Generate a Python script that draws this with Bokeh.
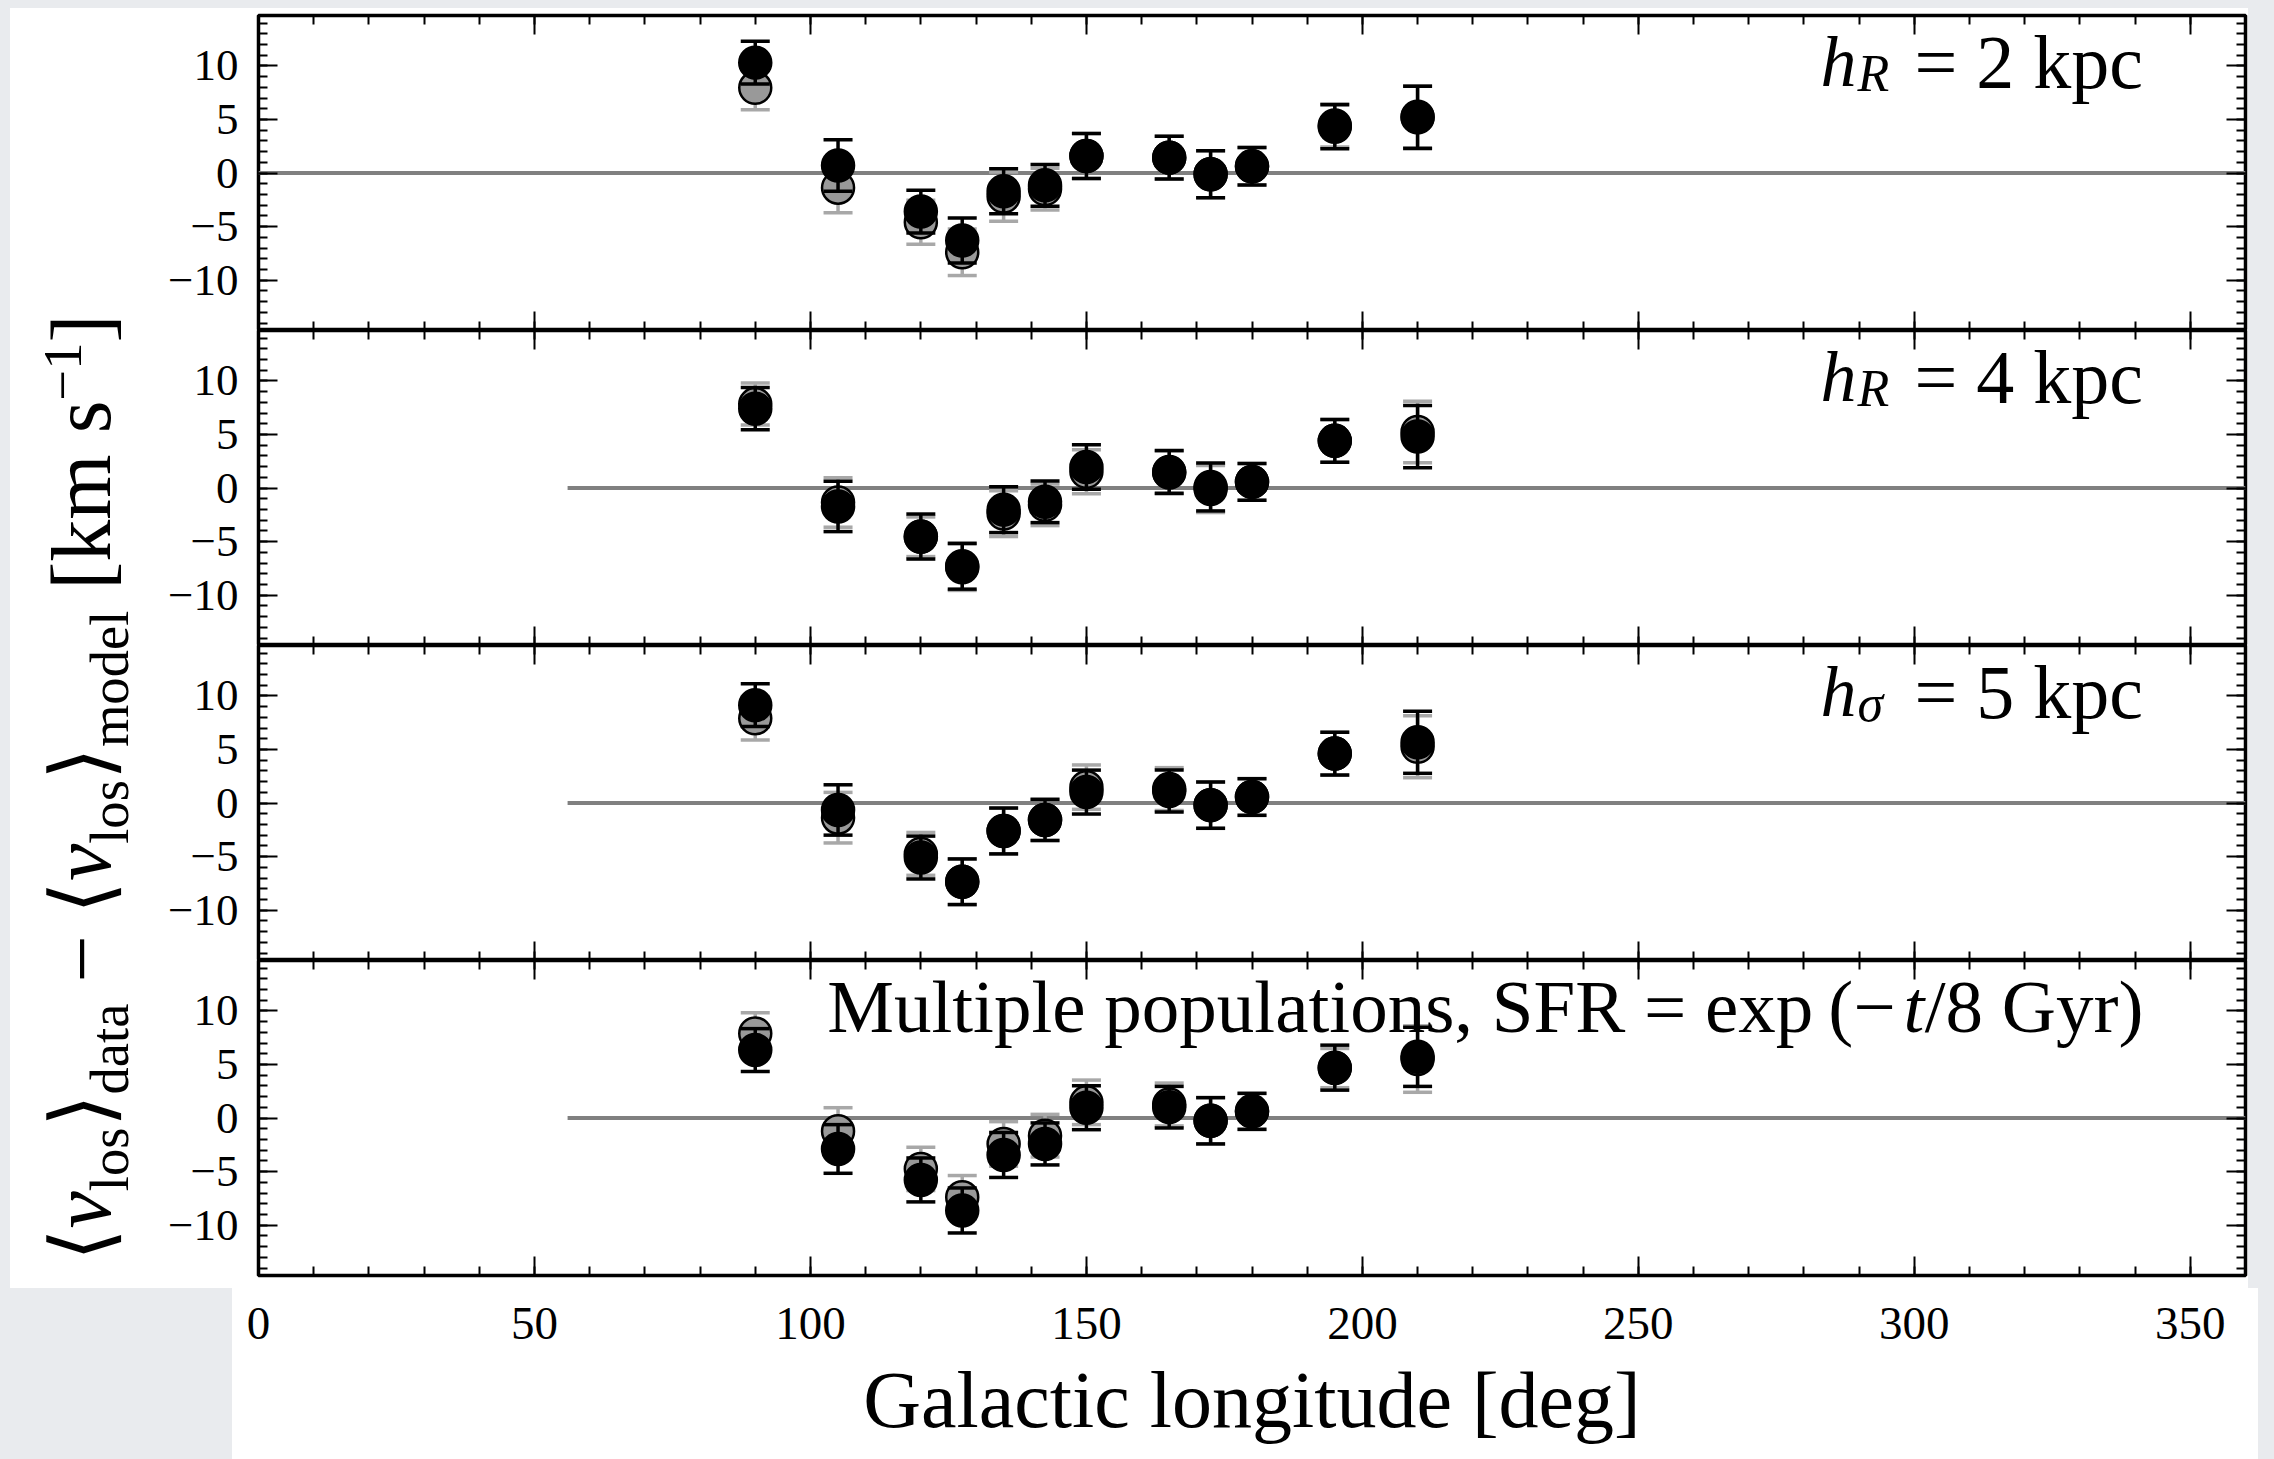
from bokeh.plotting import figure
from bokeh.layouts import column, row
from bokeh.models import ColumnDataSource, FixedTicker, LinearAxis, Range1d, Div, Label
from bokeh.embed import file_html
from bokeh.resources import INLINE

# ---------------- data ----------------
longitude = [90, 105, 120, 127.5, 135, 142.5, 150, 165, 172.5, 180, 195, 210]

p1_black_y = [10.3, 0.7, -3.6, -6.3, -1.7, -1.15, 1.58, 1.43, -0.12, 0.62, 4.32, 5.19]
p1_black_err = [2.0, 2.4, 2.0, 2.1, 2.1, 1.95, 2.1, 2.0, 2.2, 1.75, 2.05, 2.9]
p1_gray_y = [7.95, -1.37, -4.6, -7.4, -2.2, -1.5, 1.58, 1.43, -0.12, 0.62, 4.44, 5.25]
p1_gray_err = [2.05, 2.33, 2.05, 2.17, 2.3, 1.95, 2.1, 2.0, 2.2, 1.75, 2.02, 2.9]

p2_black_y = [7.4, -1.72, -4.53, -7.3, -2.02, -1.29, 1.96, 1.5, 0.1, 0.57, 4.4, 4.8]
p2_black_err = [1.97, 2.35, 2.1, 2.14, 2.14, 1.94, 2.08, 2.0, 2.24, 1.72, 2.0, 2.9]
p2_gray_y = [7.83, -1.35, -4.55, -7.4, -2.39, -1.57, 1.52, 1.45, -0.09, 0.57, 4.4, 5.23]
p2_gray_err = [1.96, 2.31, 1.85, 2.16, 2.14, 1.94, 2.05, 2.0, 2.2, 1.72, 2.0, 2.87]

p3_black_y = [9.13, -0.65, -5.09, -7.35, -2.61, -1.58, 1.02, 1.12, -0.2, 0.56, 4.61, 5.67]
p3_black_err = [2.0, 2.35, 2.0, 2.13, 2.14, 1.92, 2.05, 1.96, 2.16, 1.71, 2.0, 2.9]
p3_gray_y = [7.9, -1.37, -4.75, -7.35, -2.61, -1.58, 1.48, 1.3, -0.2, 0.56, 4.61, 5.25]
p3_gray_err = [2.03, 2.36, 2.0, 2.13, 2.14, 1.92, 2.07, 2.0, 2.16, 1.71, 2.0, 2.89]

p4_black_y = [6.34, -2.89, -5.78, -8.63, -3.45, -2.42, 0.96, 1.01, -0.26, 0.62, 4.7, 5.71]
p4_black_err = [2.0, 2.27, 2.05, 2.1, 2.1, 1.96, 2.05, 1.94, 2.16, 1.68, 2.1, 2.76]
p4_gray_y = [7.89, -1.24, -4.75, -7.39, -2.42, -1.65, 1.46, 1.26, -0.26, 0.62, 4.66, 5.5]
p4_gray_err = [1.93, 2.2, 2.02, 2.02, 2.08, 1.99, 2.08, 2.0, 2.16, 1.68, 1.83, 3.1]

zero_line_start = [0, 56, 56, 56]

x_major = [0, 50, 100, 150, 200, 250, 300, 350]
x_minor = list(range(0, 361, 10))
x_tick_labels = ["0", "50", "100", "150", "200", "250", "300", "350"]
y_major = [-10, -5, 0, 5, 10]
y_minor = list(range(-14, 15))
y_tick_labels = ["\u221210", "\u22125", "0", "5", "10"]

panel_sub = ["R", "R", "\u03c3", None]
panel_rest = ["= 2 kpc", "= 4 kpc", "= 5 kpc", None]
panel4_parts = ["Multiple populations,  SFR = exp\u2009(\u2212", "t", "/8 Gyr)"]
x_label = "Galactic longitude [deg]"

panels = [
    (p1_black_y, p1_black_err, p1_gray_y, p1_gray_err),
    (p2_black_y, p2_black_err, p2_gray_y, p2_gray_err),
    (p3_black_y, p3_black_err, p3_gray_y, p3_gray_err),
    (p4_black_y, p4_black_err, p4_gray_y, p4_gray_err),
]

FONT = "Liberation Serif"
FRAME_W, FRAME_H = 1987, 315
x_range = Range1d(0, 360)


def add_axis(p, loc, ticks, minor, labels=None, fsize="44px", standoff=20):
    ax = LinearAxis(ticker=FixedTicker(ticks=ticks, minor_ticks=minor))
    ax.major_tick_in = 19
    ax.major_tick_out = 0
    ax.minor_tick_in = 9
    ax.minor_tick_out = 0
    ax.major_tick_line_width = 2
    ax.minor_tick_line_width = 2
    ax.major_tick_line_color = "black"
    ax.minor_tick_line_color = "black"
    ax.axis_line_color = None
    if labels is None:
        ax.major_label_text_font_size = "0px"
        ax.major_label_standoff = 0
        ax.major_label_overrides = {t: "" for t in ticks}
    else:
        ax.major_label_overrides = dict(zip(ticks, labels))
        ax.major_label_text_font = FONT
        ax.major_label_text_font_size = fsize
        ax.major_label_text_color = "black"
        ax.major_label_standoff = standoff
    p.add_layout(ax, loc)
    return ax


figs = []
for i, (by, be, gy, ge) in enumerate(panels):
    last = i == 3
    p = figure(frame_width=FRAME_W, frame_height=FRAME_H,
               x_range=x_range, y_range=Range1d(-14.7, 14.7),
               x_axis_location=None, y_axis_location=None,
               output_backend="svg", toolbar_location=None,
               min_border_left=108, min_border_right=29,
               min_border_top=15 if i == 0 else 0,
               min_border_bottom=0,
               border_fill_color=None, background_fill_color="white",
               outline_line_color="black", outline_line_width=3.5)
    p.grid.grid_line_color = None
    p.grid.visible = False

    add_axis(p, "left", y_major, y_minor, y_tick_labels, "45px", 20)
    add_axis(p, "right", y_major, y_minor)
    add_axis(p, "above", x_major, x_minor)
    if last:
        xa = add_axis(p, "below", x_major, x_minor, x_tick_labels, "47px", 32)
        xa.axis_label = x_label
        xa.axis_label_text_font = FONT
        xa.axis_label_text_font_size = "80px"
        xa.axis_label_text_font_style = "normal"
        xa.axis_label_text_color = "black"
        xa.axis_label_standoff = 14
    else:
        add_axis(p, "below", x_major, x_minor)

    # zero reference line
    p.segment(x0=[zero_line_start[i]], y0=[0], x1=[360], y1=[0],
              line_color="#808080", line_width=4)

    for ys, es, fill, ecol in ((gy, ge, "#999999", "#a8a8a8"), (by, be, "black", "black")):
        lo = [y - e for y, e in zip(ys, es)]
        hi = [y + e for y, e in zip(ys, es)]
        src = ColumnDataSource(dict(x=longitude, y=ys, lo=lo, hi=hi))
        p.segment(x0="x", y0="lo", x1="x", y1="hi", source=src,
                  line_color=ecol, line_width=3.5)
        p.scatter(x="x", y="lo", source=src, marker="dash", size=29,
                  line_color=ecol, line_width=3.5)
        p.scatter(x="x", y="hi", source=src, marker="dash", size=29,
                  line_color=ecol, line_width=3.5)
        p.scatter(x="x", y="y", source=src, marker="circle", size=32,
                  fill_color=fill, line_color="black", line_width=2.5)

    if panel_sub[i] is not None:
        base = dict(x=283, y=10.4, text_font=FONT, text_color="black",
                    text_baseline="alphabetic", text_align="left")
        p.add_layout(Label(text="h", text_font_size="72px",
                           text_font_style="italic", **base))
        p.add_layout(Label(text=panel_sub[i], text_font_size="52px",
                           text_font_style="italic", x_offset=37, y_offset=-12, **base))
        p.add_layout(Label(text=panel_rest[i], text_font_size="76px",
                           x_offset=94, **base))
    else:
        base = dict(x=341.5, y=10.45, text_font=FONT, text_font_size="75px",
                    text_color="black", text_baseline="alphabetic", text_align="right")
        p.add_layout(Label(text=panel4_parts[2], **base))
        p.add_layout(Label(text=panel4_parts[1], text_font_style="italic",
                           x_offset=-219, **base))
        p.add_layout(Label(text=panel4_parts[0], x_offset=-229, **base))
    figs.append(p)

ylabel_html = (
    '<div style="position:absolute; left:87px; top:788px; '
    'transform: translate(-50%, -50%) rotate(-90deg); white-space:nowrap; '
    "font-family:'Liberation Serif'; font-size:84px; line-height:1; color:black;\">"
    '\u27e8<i>v</i><sub style="font-size:0.65em">los</sub>\u27e9'
    '<sub style="font-size:0.65em">data</sub> \u2212 '
    '\u27e8<i>v</i><sub style="font-size:0.65em">los</sub>\u27e9'
    '<sub style="font-size:0.65em">model</sub> '
    '[km s<sup style="font-size:0.65em">\u22121</sup>]</div>'
)
ydiv = Div(text=ylabel_html, width=150, height=1459, margin=(0, 0, 0, 0),
           styles={"overflow": "visible"})

stack = column(*figs, spacing=0)
layout = row(ydiv, stack, spacing=0,
             styles={"background-color": "#e9ebee",
                     "background-image": "linear-gradient(#ffffff,#ffffff), linear-gradient(#ffffff,#ffffff)",
                     "background-size": "2238px 1280px, 2026px 171px",
                     "background-position": "10px 8px, 232px 1288px",
                     "background-repeat": "no-repeat"})

open("out.html", "w").write(file_html(layout, INLINE))
